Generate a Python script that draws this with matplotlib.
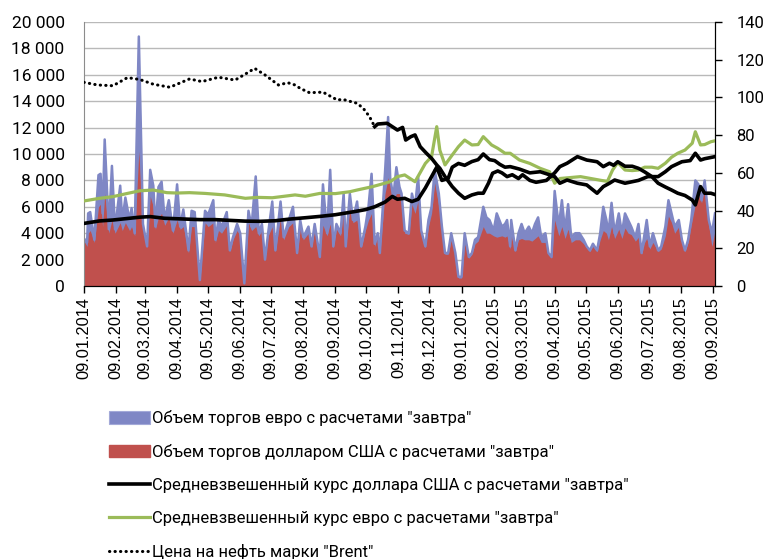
import matplotlib
matplotlib.use("Agg")
import matplotlib.pyplot as plt
from matplotlib.patches import Patch
from matplotlib.lines import Line2D
from matplotlib.ticker import FuncFormatter
import pandas as pd

start = pd.Timestamp("2014-01-09")

# объемы торгов, дни от 09.01.2014
vol_days = [0, 3, 4, 6, 10, 14, 16, 18, 20, 24, 27, 30, 35, 37, 40, 44, 46, 49, 53, 57,
            61, 64, 67, 69, 72, 75, 78, 82, 86, 90, 93, 96, 101, 104, 107, 112, 117, 120, 125, 127,
            130, 133, 138, 141, 144, 148, 151, 155, 159, 162, 166, 169, 172, 175, 178, 182, 185, 190, 193, 198,
            202, 206, 209, 212, 217, 220, 223, 228, 231, 235, 238, 241, 244, 248, 251, 253, 257, 260, 264, 268,
            272, 275, 278, 281, 284, 286, 291, 294, 296, 299, 302, 305, 307, 310, 314, 317, 320, 323, 326, 330,
            333, 336, 339, 343, 346, 349, 352, 355, 359, 362, 365, 368, 372, 375, 378, 381, 386, 389, 392, 396,
            399, 404, 407, 409, 412, 413, 417, 420, 423, 426, 430, 433, 436, 439, 442, 446, 449, 452, 455, 459,
            462, 465, 468, 471, 475, 479, 483, 486, 489, 492, 496, 499, 502, 505, 507, 510, 513, 517, 520, 523,
            526, 529, 533, 536, 539, 542, 544, 547, 550, 555, 558, 562, 565, 568, 571, 575, 578, 581, 584, 587,
            591, 594, 597, 600, 604, 607, 610]
vol_eur = [3600, 3300, 5500, 5600, 3500, 8400, 8500, 5500, 11100, 4300, 9100, 4300, 7600, 4900, 6700, 5000, 5900, 4000, 18900, 4700,
           3000, 8800, 7600, 4500, 7500, 7900, 5000, 6500, 4200, 7700, 4500, 5800, 2700, 5700, 5600, 450, 5700, 5400, 6500, 3500,
           5000, 4500, 5600, 2700, 3700, 4700, 4000, 200, 5700, 4500, 8300, 4000, 4700, 2000, 4000, 6400, 2700, 6400, 3700, 5000,
           6000, 2500, 5000, 3700, 4500, 3000, 4700, 2200, 7700, 4000, 8800, 3000, 4700, 4000, 7000, 3000, 7000, 5000, 6400, 3000,
           4500, 6000, 8500, 3200, 4000, 2500, 8600, 12800, 8200, 6700, 9000, 7500, 7000, 4200, 4000, 7000, 6000, 8300, 4200, 3000,
           5000, 6000, 8800, 7000, 4500, 2500, 2500, 4000, 2500, 700, 700, 4000, 2200, 2500, 3500, 3700, 6000, 5200, 5000, 4200,
           5500, 4500, 4700, 5000, 3000, 5000, 2700, 4000, 4700, 4000, 4500, 4000, 4700, 5200, 3700, 4000, 2500, 2200, 7200, 4500,
           6500, 4200, 6200, 3700, 4000, 4000, 3500, 3000, 2700, 3200, 2700, 4000, 6000, 5000, 4000, 6300, 4000, 5500, 4000, 5500,
           5000, 4500, 3700, 4700, 2500, 4000, 5000, 3000, 4000, 2700, 3000, 4500, 6500, 5500, 4500, 5000, 3500, 2700, 3500, 5000,
           8000, 7700, 6500, 8000, 5000, 4000, 5500]
vol_usd = [3400, 3000, 4000, 4200, 3300, 6000, 6200, 4500, 7000, 4000, 5000, 4000, 4800, 4200, 4800, 4200, 4500, 3800, 10200, 4500,
           3000, 6800, 6000, 4300, 5200, 5500, 4600, 5200, 4000, 5000, 4300, 4500, 2500, 4500, 4500, 400, 4800, 4500, 4800, 3300,
           4200, 4000, 4600, 2600, 3500, 4200, 3800, 200, 4800, 4200, 4500, 3800, 4200, 2000, 3800, 4500, 2600, 5200, 3500, 4500,
           4800, 2400, 4300, 3500, 4000, 2900, 4300, 2100, 4600, 3800, 4700, 2900, 4300, 3800, 5800, 2900, 6000, 4800, 5000, 2900,
           4200, 5000, 5500, 3000, 3800, 2400, 7000, 8200, 7800, 6500, 7000, 7000, 6500, 4000, 3900, 6200, 5500, 6500, 4000, 2900,
           4500, 5500, 7800, 6000, 4300, 2400, 2400, 3500, 2400, 600, 600, 3200, 2100, 2400, 3200, 3400, 4500, 4000, 4000, 3800,
           3700, 3800, 3700, 3800, 2800, 3800, 2600, 3500, 3600, 3500, 3500, 3400, 3600, 3800, 3300, 3300, 2400, 2100, 5000, 3800,
           4500, 3600, 4300, 3300, 3500, 3500, 3200, 2900, 2600, 3000, 2600, 3500, 4200, 4000, 3500, 4500, 3600, 4300, 3600, 4400,
           4000, 3900, 3400, 3700, 2400, 3300, 3600, 2800, 3300, 2600, 2800, 3800, 5300, 4800, 4000, 4500, 3300, 2600, 3300, 4600,
           6200, 7000, 6300, 7500, 4500, 3000, 4200]

# курсы и нефть (правая ось)
usd_days = [0, 15, 28, 42, 54, 64, 78, 93, 102, 112, 127, 141, 156, 170, 185, 199, 214, 228, 243, 252,
            262, 272, 281, 291, 298, 303, 310, 317, 323, 330, 336, 341, 346, 352, 356, 362, 368, 375, 381, 386,
            392, 397, 402, 407, 412, 421, 431, 441, 450, 455, 460, 467, 477, 486, 496, 502, 508, 513, 523, 536,
            545, 555, 562, 568, 578, 586, 591, 596, 600, 610]
usd_rate = [33.2, 34.5, 35.0, 35.8, 36.5, 36.8, 35.9, 35.6, 35.4, 35.2, 35.2, 34.8, 34.4, 34.3, 34.6, 35.5, 36.2, 36.9, 37.8, 38.6,
            39.5, 40.5, 42.0, 44.5, 47.5, 46.0, 46.5, 44.8, 46.0, 52.0, 58.0, 63.0, 56.0, 57.0, 63.0, 65.0, 64.0, 66.0, 67.0, 70.0,
            67.0, 66.5, 64.5, 63.0, 63.3, 62.0, 60.0, 60.6, 59.0, 58.0, 54.5, 56.2, 54.5, 53.6, 49.2, 52.7, 54.5, 56.2, 54.5, 56.0,
            58.0, 58.0, 60.6, 63.3, 65.9, 66.5, 70.4, 66.8, 67.5, 68.6]

eur_days = [0, 15, 28, 42, 54, 67, 80, 90, 102, 117, 136, 156, 168, 182, 204, 214, 228, 243, 257, 264,
            279, 296, 303, 310, 320, 330, 336, 341, 344, 349, 356, 362, 368, 375, 381, 386, 394, 400, 407, 412,
            421, 431, 441, 450, 455, 460, 470, 480, 490, 500, 506, 511, 516, 523, 530, 536, 542, 549, 555, 562,
            568, 574, 581, 588, 591, 596, 600, 606, 610]
eur_rate = [45.1, 46.5, 47.4, 49.1, 50.5, 50.9, 49.5, 49.3, 49.5, 49.1, 48.3, 46.5, 47.0, 46.8, 48.3, 47.6, 49.1, 49.0, 50.0, 50.9,
            52.7, 55.3, 58.0, 58.9, 55.3, 65.0, 68.6, 84.5, 72.0, 64.2, 69.5, 73.9, 77.4, 74.8, 75.0, 79.2, 74.8, 73.0, 70.4, 70.4,
            66.8, 65.0, 62.4, 60.6, 54.5, 57.0, 57.5, 58.0, 57.0, 56.0, 55.5, 61.5, 65.5, 61.5, 61.2, 61.5, 63.0, 63.0, 62.4, 65.1,
            68.3, 70.4, 72.1, 75.7, 81.8, 74.8, 75.0, 76.5, 77.0]

brent_days = [0, 13, 28, 42, 54, 67, 83, 102, 114, 130, 146, 156, 165, 175, 188, 197, 204, 209, 218, 231,
              245, 250, 264, 270, 276, 281, 284, 293, 298, 303, 308, 311, 316, 320, 325, 331, 336, 341, 344, 349,
              356, 362, 368, 375, 381, 386, 391, 395, 400, 404, 409, 414, 420, 424, 431, 437, 442, 447, 455, 460,
              467, 477, 486, 496, 502, 508, 512, 516, 523, 530, 536, 542, 549, 555, 562, 568, 574, 581, 588, 591,
              596, 600, 606, 610]
brent_price = [108.0, 106.6, 106.2, 110.5, 109.5, 107.0, 105.4, 109.8, 108.4, 110.7, 109.2, 112.4, 115.4, 111.9, 106.6, 107.8, 106.6, 104.8, 102.5, 102.8,
               98.6, 99.0, 96.9, 94.2, 89.8, 84.5, 85.9, 86.3, 84.5, 82.7, 84.1, 77.4, 79.2, 80.1, 73.9, 70.4, 67.7, 64.2, 62.4, 58.0,
               52.7, 49.2, 46.5, 48.3, 49.2, 49.2, 54.5, 59.8, 61.0, 60.0, 58.0, 59.0, 57.0, 59.0, 56.0, 55.0, 55.5, 56.0, 60.0, 63.3,
               65.1, 68.6, 66.8, 65.9, 63.3, 65.1, 64.0, 65.9, 63.5, 63.5, 62.4, 60.5, 58.0, 54.5, 52.5, 50.9, 49.2, 48.0, 45.6, 43.0,
               52.7, 49.2, 49.2, 48.5]
brent_dotted_until = 281  # дальше линия сплошная, как в исходнике

labels = ['Объем торгов евро с расчетами "завтра"',
          'Объем торгов долларом США с расчетами "завтра"',
          'Средневзвешенный курс доллара США с расчетами "завтра"',
          'Средневзвешенный курс евро с расчетами "завтра"',
          'Цена на нефть марки "Brent"']

blue = "#7F87C5"
red = "#C0504D"
green = "#9BBB59"
dots = (0, (0.1, 1.7))


def to_dates(days):
    return start + pd.to_timedelta(days, unit="D")


fig = plt.figure(figsize=(7.66, 5.59), dpi=100)
ax = fig.add_axes([84 / 766, 1 - 286 / 559, 631 / 766, 264 / 559])

vd = to_dates(vol_days)
ax.fill_between(vd, 0, vol_eur, color=blue, lw=0)
ax.plot(vd, vol_eur, color=blue, lw=1.8, solid_joinstyle="round")
ax.fill_between(vd, 0, vol_usd, color=red, lw=0)

ax.set_ylim(0, 20000)
ax.set_yticks(range(0, 20001, 2000))
ax.yaxis.set_major_formatter(FuncFormatter(lambda v, p: f"{int(v):,}".replace(",", " ")))
ax.grid(axis="y", color="#B9B9B9", lw=1)
ax.set_axisbelow(True)

ax.set_xlim(start, start + pd.Timedelta(days=610))
ticks = pd.date_range("2014-01-09", "2015-09-09", freq=pd.DateOffset(months=1))
ax.set_xticks(ticks)
ax.set_xticklabels([t.strftime("%d.%m.%Y") for t in ticks], rotation=90,
                   family="Liberation Sans", fontsize=11.8)
ax.tick_params(axis="x", length=5, width=1, pad=3, color="black")
ax.tick_params(axis="y", length=0, pad=14, labelsize=12.5)
for t in ax.get_yticklabels():
    t.set_family("Roboto")

ax2 = ax.twinx()
ax2.set_ylim(0, 140)
ax2.set_yticks(range(0, 141, 20))
ax2.tick_params(axis="y", length=5, width=1, pad=10.5, labelsize=12)
for t in ax2.get_yticklabels():
    t.set_family("Roboto")

ax2.plot(to_dates(eur_days), eur_rate, color=green, lw=2.3, solid_joinstyle="round")
ax2.plot(to_dates(usd_days), usd_rate, color="black", lw=2.6, solid_joinstyle="round")

k = brent_days.index(brent_dotted_until) + 1
ax2.plot(to_dates(brent_days[:k]), brent_price[:k], color="black", lw=2.2,
         linestyle=dots, dash_capstyle="round")
ax2.plot(to_dates(brent_days[k - 1:]), brent_price[k - 1:], color="black", lw=2.6,
         solid_joinstyle="round")

for a in (ax, ax2):
    a.spines["top"].set_visible(False)
ax.spines["left"].set_color("#8C8C8C")
ax2.spines["left"].set_visible(False)
ax.spines["bottom"].set_color("black")
ax2.spines["right"].set_color("black")

handles = [Patch(facecolor=blue, edgecolor="#A3A9D8", lw=0.8),
           Patch(facecolor=red, edgecolor=red),
           Line2D([], [], color="black", lw=2.6),
           Line2D([], [], color=green, lw=2.3),
           Line2D([], [], color="black", lw=2.2, linestyle=dots, dash_capstyle="round")]
fig.legend(handles, labels, loc="upper left", bbox_to_anchor=(109 / 766, 1 - 410 / 559),
           frameon=False, borderpad=0, borderaxespad=0, handlelength=2.45, handleheight=0.8,
           handletextpad=0.15, labelspacing=1.07, prop={"family": "Roboto", "size": 12})

fig.savefig("out.png", dpi=100)
